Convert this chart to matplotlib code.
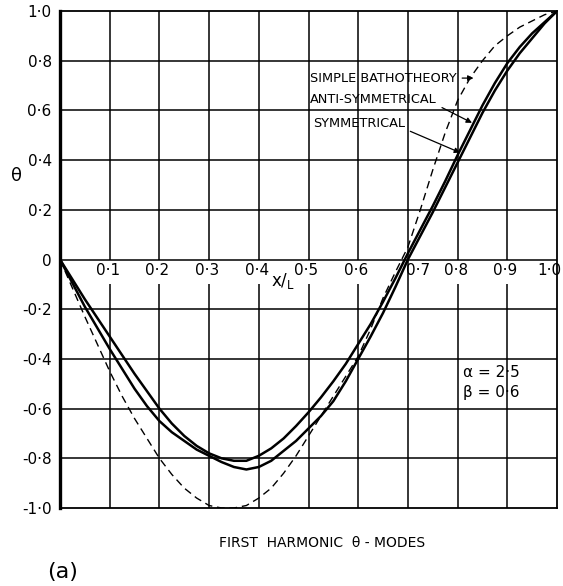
import matplotlib
matplotlib.use('Agg')
import matplotlib.pyplot as plt
from matplotlib import font_manager

# stations along the beam, x/L
x_pos = [0.0, 0.025, 0.05, 0.075, 0.1, 0.125, 0.15, 0.175, 0.2, 0.225, 0.25,
         0.275, 0.3, 0.325, 0.35, 0.375, 0.4, 0.425, 0.45, 0.475, 0.5,
         0.525, 0.55, 0.575, 0.6, 0.625, 0.65, 0.675, 0.7, 0.725, 0.75,
         0.775, 0.8, 0.825, 0.85, 0.875, 0.9, 0.925, 0.95, 0.975, 1.0]

# theta values
theta_batho = [0.0, -0.115, -0.23, -0.34, -0.45, -0.55, -0.64, -0.72, -0.80, -0.865, -0.92,
               -0.96, -0.99, -1.0, -1.0, -0.99, -0.96, -0.92, -0.86, -0.79, -0.71,
               -0.63, -0.55, -0.47, -0.39, -0.28, -0.155, -0.05, 0.05, 0.20, 0.36,
               0.51, 0.64, 0.73, 0.80, 0.86, 0.90, 0.935, 0.96, 0.985, 1.0]
theta_anti = [0.0, -0.08, -0.16, -0.235, -0.31, -0.385, -0.46, -0.53, -0.60, -0.66, -0.71,
              -0.75, -0.78, -0.80, -0.81, -0.81, -0.79, -0.76, -0.72, -0.67, -0.615,
              -0.555, -0.49, -0.42, -0.34, -0.26, -0.17, -0.075, 0.025, 0.12, 0.215,
              0.315, 0.42, 0.52, 0.62, 0.71, 0.79, 0.855, 0.91, 0.955, 1.0]
theta_sym = [0.0, -0.095, -0.19, -0.275, -0.36, -0.44, -0.52, -0.59, -0.65, -0.695, -0.73,
             -0.765, -0.79, -0.815, -0.835, -0.845, -0.835, -0.81, -0.77, -0.73, -0.68,
             -0.63, -0.57, -0.49, -0.40, -0.31, -0.215, -0.11, 0.0, 0.095, 0.19,
             0.29, 0.39, 0.49, 0.59, 0.68, 0.76, 0.83, 0.89, 0.95, 1.0]

x_ticks = [0.1, 0.2, 0.3, 0.4, 0.5, 0.6, 0.7, 0.8, 0.9, 1.0]
x_tick_labels = ['0·1', '0·2', '0·3', '0·4', '0·5', '0·6', '0·7', '0·8', '0·9', '1·0']
y_ticks = [1.0, 0.8, 0.6, 0.4, 0.2, 0.0, -0.2, -0.4, -0.6, -0.8, -1.0]
y_tick_labels = ['1·0', '0·8', '0·6', '0·4', '0·2', '0', '-0·2', '-0·4', '-0·6', '-0·8', '-1·0']

# pick a narrow font for the lettering if one is there
names = {f.name for f in font_manager.fontManager.ttflist}
narrow = next((n for n in ['Liberation Sans Narrow', 'DejaVu Sans Condensed'] if n in names),
              'DejaVu Sans')
plt.rcParams['font.family'] = ['DejaVu Sans']
plt.rcParams['mathtext.default'] = 'regular'

fig = plt.figure(figsize=(5.63, 5.86), dpi=100)
ax = fig.add_axes([60 / 563, 78 / 586, 497 / 563, 497 / 586])
ax.set_xlim(0, 1)
ax.set_ylim(-1, 1)

# grid, drawn by hand so the gap under the x labels is kept
for y in [-0.8, -0.6, -0.4, -0.2, 0.0, 0.2, 0.4, 0.6, 0.8]:
    ax.axhline(y, color='black', lw=1.1, zorder=1)
for x in x_ticks[:-1]:
    ax.vlines(x, 0, 1, color='black', lw=1.1, zorder=1)
    low = 0 if x == 0.7 else -0.1
    ax.vlines(x, -1, low, color='black', lw=1.1, zorder=1)

for side in ['top', 'right', 'bottom']:
    ax.spines[side].set_linewidth(1.3)
ax.spines['left'].set_linewidth(2.4)

ax.plot(x_pos, theta_batho, color='black', lw=1.0, linestyle=(0, (5.5, 3.5)), zorder=3)
ax.plot(x_pos, theta_anti, color='black', lw=1.8, zorder=3)
ax.plot(x_pos, theta_sym, color='black', lw=1.8, zorder=3)

ax.set_xticks([])
ax.set_yticks(y_ticks)
ax.set_yticklabels(y_tick_labels, fontsize=11)
ax.tick_params(axis='y', length=0, pad=6)

for x, lab in zip(x_ticks, x_tick_labels):
    if x == 1.0:
        ax.text(1.008, -0.045, lab, fontsize=11, ha='right', va='center', zorder=4)
        continue
    dx = 0.02 if x == 0.7 else -0.004
    ax.text(x + dx, -0.045, lab, fontsize=11, ha='center', va='center', zorder=4)

ax.text(0.448, -0.085, r'$x/_L$', fontsize=12, ha='center', va='center', zorder=4)

ax.set_ylabel('θ', fontsize=13, rotation=0)
ax.yaxis.set_label_coords(-0.087, 0.65)

arrow = dict(arrowstyle='-|>', color='black', lw=0.9, mutation_scale=8, shrinkA=2, shrinkB=0)
ax.annotate('SIMPLE BATHOTHEORY', xy=(0.832, 0.73), xytext=(0.503, 0.73),
            fontsize=9.3, family=narrow, ha='left', va='center',
            arrowprops=dict(arrow, relpos=(1, 0.5)), zorder=5)
ax.annotate('ANTI-SYMMETRICAL', xy=(0.829, 0.55), xytext=(0.503, 0.643),
            fontsize=9.3, family=narrow, ha='left', va='center',
            arrowprops=dict(arrow, relpos=(1, 0.1)), zorder=5)
ax.annotate('SYMMETRICAL', xy=(0.805, 0.43), xytext=(0.509, 0.546),
            fontsize=9.3, family=narrow, ha='left', va='center',
            arrowprops=dict(arrow, relpos=(1, 0.1)), zorder=5)

ax.text(0.811, -0.454, 'α = 2·5', fontsize=11, ha='left', va='center')
ax.text(0.811, -0.534, 'β = 0·6', fontsize=11, ha='left', va='center')

fig.text(322 / 563, 1 - 543 / 586, 'FIRST  HARMONIC  θ - MODES', fontsize=10,
         family=narrow, ha='center', va='center')
fig.text(63 / 563, 1 - 572 / 586, '(a)', fontsize=16, ha='center', va='center')

fig.savefig('out.png', dpi=100)
